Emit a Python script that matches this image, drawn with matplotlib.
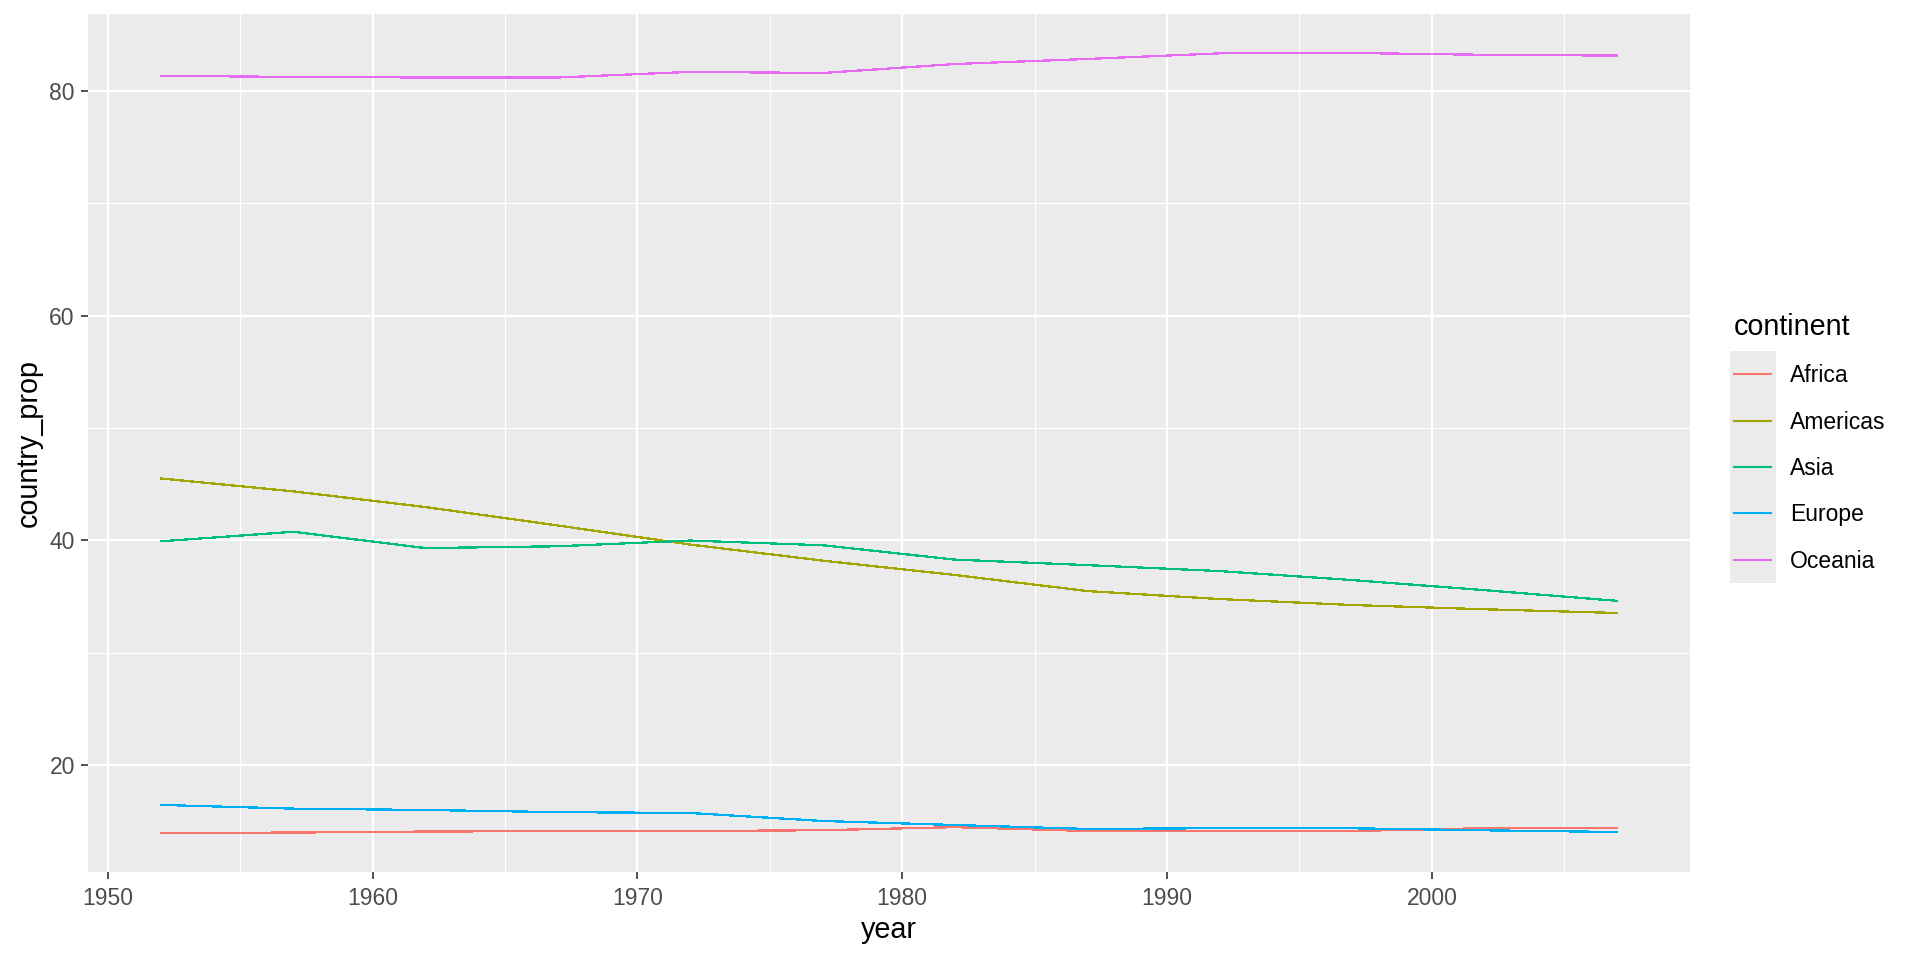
import matplotlib
matplotlib.use("Agg")
import matplotlib.pyplot as plt
from matplotlib.patches import Rectangle
from matplotlib.ticker import MultipleLocator

# data
years = [1952, 1957, 1962, 1967, 1972, 1977, 1982, 1987, 1992, 1997, 2002, 2007]
continents = ["Africa", "Americas", "Asia", "Europe", "Oceania"]
africa = [13.93, 13.97, 14.06, 14.10, 14.10, 14.18, 14.45, 14.11, 14.11, 14.11, 14.36, 14.38]
americas = [45.50, 44.35, 42.95, 41.31, 39.61, 38.18, 36.90, 35.47, 34.76, 34.23, 33.85, 33.52]
asia = [39.90, 40.75, 39.30, 39.46, 39.97, 39.55, 38.27, 37.78, 37.25, 36.45, 35.55, 34.60]
europe = [16.43, 16.10, 15.98, 15.79, 15.71, 15.00, 14.64, 14.29, 14.36, 14.35, 14.17, 14.02]
oceania = [81.35, 81.25, 81.20, 81.20, 81.70, 81.60, 82.40, 82.85, 83.35, 83.38, 83.22, 83.15]
series = [africa, americas, asia, europe, oceania]
colors = ["#F8766D", "#A3A500", "#00BF7D", "#00B0F6", "#E76BF3"]

plt.rcParams['font.family'] = ['Liberation Sans', 'DejaVu Sans']

W, H = 1920, 960
fig = plt.figure(figsize=(19.2, 9.6), dpi=100)
fig.patch.set_facecolor('white')
ax = fig.add_axes([88 / W, 1 - 872 / H, (1690 - 88) / W, (872 - 14) / H])
ax.set_facecolor('#EBEBEB')

for name, vals, col in zip(continents, series, colors):
    ax.plot(years, vals, color=col, lw=0.9, label=name, antialiased=False)

ax.margins(0.05)
ax.xaxis.set_major_locator(MultipleLocator(10))
ax.xaxis.set_minor_locator(MultipleLocator(5))
ax.yaxis.set_major_locator(MultipleLocator(20))
ax.yaxis.set_minor_locator(MultipleLocator(10))

ax.set_axisbelow(True)
ax.grid(which='major', color='white', lw=1.6)
ax.grid(which='minor', color='white', lw=0.8)
for s in ax.spines.values():
    s.set_visible(False)

ax.tick_params(which='major', length=5, width=1.2, color='#333333',
               labelcolor='#4D4D4D', labelsize=16.5)
ax.tick_params(axis='x', which='major', pad=6)
ax.tick_params(axis='y', which='major', pad=4.5)
ax.tick_params(which='minor', length=0)

ax.set_xlabel('year', fontsize=20.7, labelpad=4)
ax.set_ylabel('country_prop', fontsize=20.7, labelpad=5)

leg = ax.legend(title='continent', loc='upper left',
                bbox_to_anchor=(1727 / W, 1 - 306 / H), bbox_transform=fig.transFigure,
                frameon=False, fontsize=16.5, title_fontsize=20.7,
                handlelength=1.6, handletextpad=0.85, labelspacing=1.02,
                borderaxespad=0, borderpad=0.3, alignment='left')
leg.set_zorder(10)
for h in leg.legend_handles:
    h.set_linewidth(1.5)

# grey background behind the legend keys, sized from the drawn handles
fig.canvas.draw()
r = fig.canvas.get_renderer()
boxes = [h.get_window_extent(r) for h in leg.legend_handles]
cy = [(b.y0 + b.y1) / 2 for b in boxes]
pitch = abs(cy[0] - cy[1])
x0 = min(b.x0 for b in boxes) - 4
x1 = max(b.x1 for b in boxes) + 5
y0 = min(cy) - pitch / 2
y1 = max(cy) + pitch / 2
bg = Rectangle((x0 / W, y0 / H), (x1 - x0) / W, (y1 - y0) / H,
               transform=fig.transFigure, facecolor='#EBEBEB', edgecolor='none',
               clip_on=False, zorder=1)
ax.add_artist(bg)

fig.savefig('out.png', dpi=100)
